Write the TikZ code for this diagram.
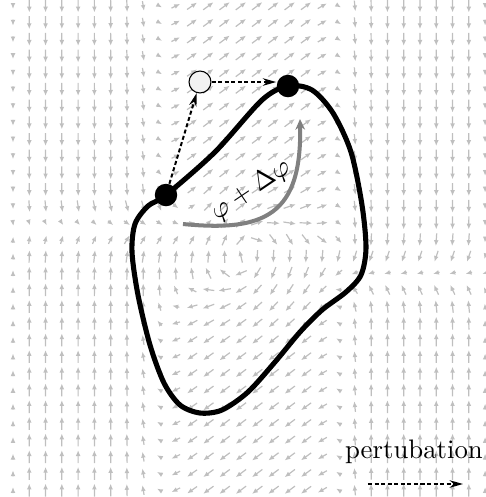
\documentclass[tikz,border=0pt]{standalone}
\usepackage{amsmath}
\usepackage{tikz}
\usetikzlibrary{
    arrows.meta
}

\begin{document}
\begin{tikzpicture}[
        x=0.3734pt, y=-0.3734pt,
        >=Stealth,
        fieldarrow/.style={
            -{Latex[length=2.2pt,width=1.8pt]},
            line width=0.45pt,
            draw=black!25
        },
        limitcycle/.style={
            line width=1.9pt,
            draw=black
        },
        phasedot/.style={
            circle,
            fill=black,
            inner sep=0pt,
            minimum size=8.4pt
        },
        kickdot/.style={
            circle,
            draw=black,
            fill=black!5,
            line width=0.4pt,
            inner sep=0pt,
            minimum size=8.2pt
        },
        kick/.style={
            -{Stealth[length=5pt,width=2.8pt]},
            line width=0.75pt,
            dash pattern=on 1.5pt off 0.95pt
        },
        phasearrow/.style={
            -{Stealth[length=4pt,width=3.6pt]},
            line width=1.5pt,
            draw=black!50
        }
    ]
        \useasboundingbox (0,0) rectangle (486,497);

        % flow field
        \foreach \i in {0,...,29}{
            \foreach \j in {0,...,29}{
                \pgfmathsetmacro{\gx}{13+16.28*\i}
                \pgfmathsetmacro{\gy}{6+16.69*\j}
                \pgfmathsetmacro{\fu}{\gx/100}
                \pgfmathsetmacro{\fv}{\gy/100}
                % weights of the middle part
                \pgfmathsetmacro{\fq}{(\fv-2.5)/0.45}
                \pgfmathsetmacro{\flb}{1.60+0.55*exp(max(-9,0-(\fq)*(\fq)))}
                \pgfmathsetmacro{\fml}{1/(1+exp(max(-8,min(8,(\flb-\fu)/0.1))))}
                \pgfmathsetmacro{\fmr}{1/(1+exp(max(-8,min(8,(\fu-3.38)/0.08))))}
                % left part
                \pgfmathsetmacro{\fq}{(\fv-2.28)/0.25}
                \pgfmathsetmacro{\flx}{0.5*min(1,\fu/1.3)*exp(max(-9,0-(\fq)*(\fq)))}
                \pgfmathsetmacro{\fly}{tanh(max(-4,min(4,(2.28-\fv)/0.15)))}
                % right part
                \pgfmathsetmacro{\fq}{(\fv-2.75)/0.25}
                \pgfmathsetmacro{\frx}{-0.5*exp(max(-9,0-(\fq)*(\fq)))}
                \pgfmathsetmacro{\fry}{tanh(max(-4,min(4,(2.75-\fv)/0.15)))}
                % middle part
                \pgfmathsetmacro{\fex}{\fu-2.45}
                \pgfmathsetmacro{\fey}{\fv-2.55}
                \pgfmathsetmacro{\fmx}{0-(\fey)}
                \pgfmathsetmacro{\fmy}{0.75*(\fey)+1.5*(\fex)*exp(max(-9,0-((\fex)*(\fex)+(\fey)*(\fey))/0.36))}
                \pgfmathsetmacro{\fmn}{sqrt((\fmx)*(\fmx)+(\fmy)*(\fmy))+0.0001}
                % blend
                \pgfmathsetmacro{\ftx}{(1-\fml)*(\flx)+(1-\fmr)*(\frx)+\fml*\fmr*(\fmx)/\fmn}
                \pgfmathsetmacro{\fty}{(1-\fml)*(\fly)+(1-\fmr)*(\fry)+\fml*\fmr*(\fmy)/\fmn}
                \pgfmathsetmacro{\ftn}{sqrt((\ftx)*(\ftx)+(\fty)*(\fty))+0.0001}
                \pgfmathsetmacro{\fhl}{(\i==0 || \i==29) ? 3 : 6.5*min(1,max(0.4,\ftn))}
                \pgfmathsetmacro{\fdx}{\fhl*(\ftx)/\ftn}
                \pgfmathsetmacro{\fdy}{\fhl*(\fty)/\ftn}
                \draw[fieldarrow] ({\gx-(\fdx)},{\gy-(\fdy)}) -- ({\gx+(\fdx)},{\gy+(\fdy)});
            }
        }

        % limit cycle
        \draw[limitcycle] plot[smooth cycle, tension=0.5] coordinates {
            (166,195) (215,152) (262,100) (288,86) (312,90)
            (333,113) (351,152) (362,205) (366,248) (361,275) (346,292)
            (322,310) (300,332) (275,362) (248,392) (222,410) (200,413)
            (180,405) (164,383) (150,345) (138,295) (132,252) (135,224)
            (148,206)};

        % phase shift
        \coordinate (phasefrom) at (183,224);
        \coordinate (phaseto) at (300,119);
        \draw[phasearrow] (phasefrom) .. controls (265,232) and (302,215) .. (phaseto);
        \node[rotate=34] (phaselabel) at (251,190) {$\varphi+\Delta\varphi$};

        % states
        \node[phasedot] (lo) at (166,195) {};
        \node[phasedot] (hi) at (288,86) {};
        \node[kickdot] (shifted) at (200,82) {};
        \draw[kick] (lo) -- (shifted);
        \draw[kick] (shifted) -- (shifted -| hi.west);

        % legend
        \node (kicklabel) at (414,452) {pertubation};
        \coordinate (kickfrom) at (368,484);
        \coordinate (kickto) at (463,484);
        \draw[kick] (kickfrom) -- (kickto);
    \end{tikzpicture}
\end{document}
